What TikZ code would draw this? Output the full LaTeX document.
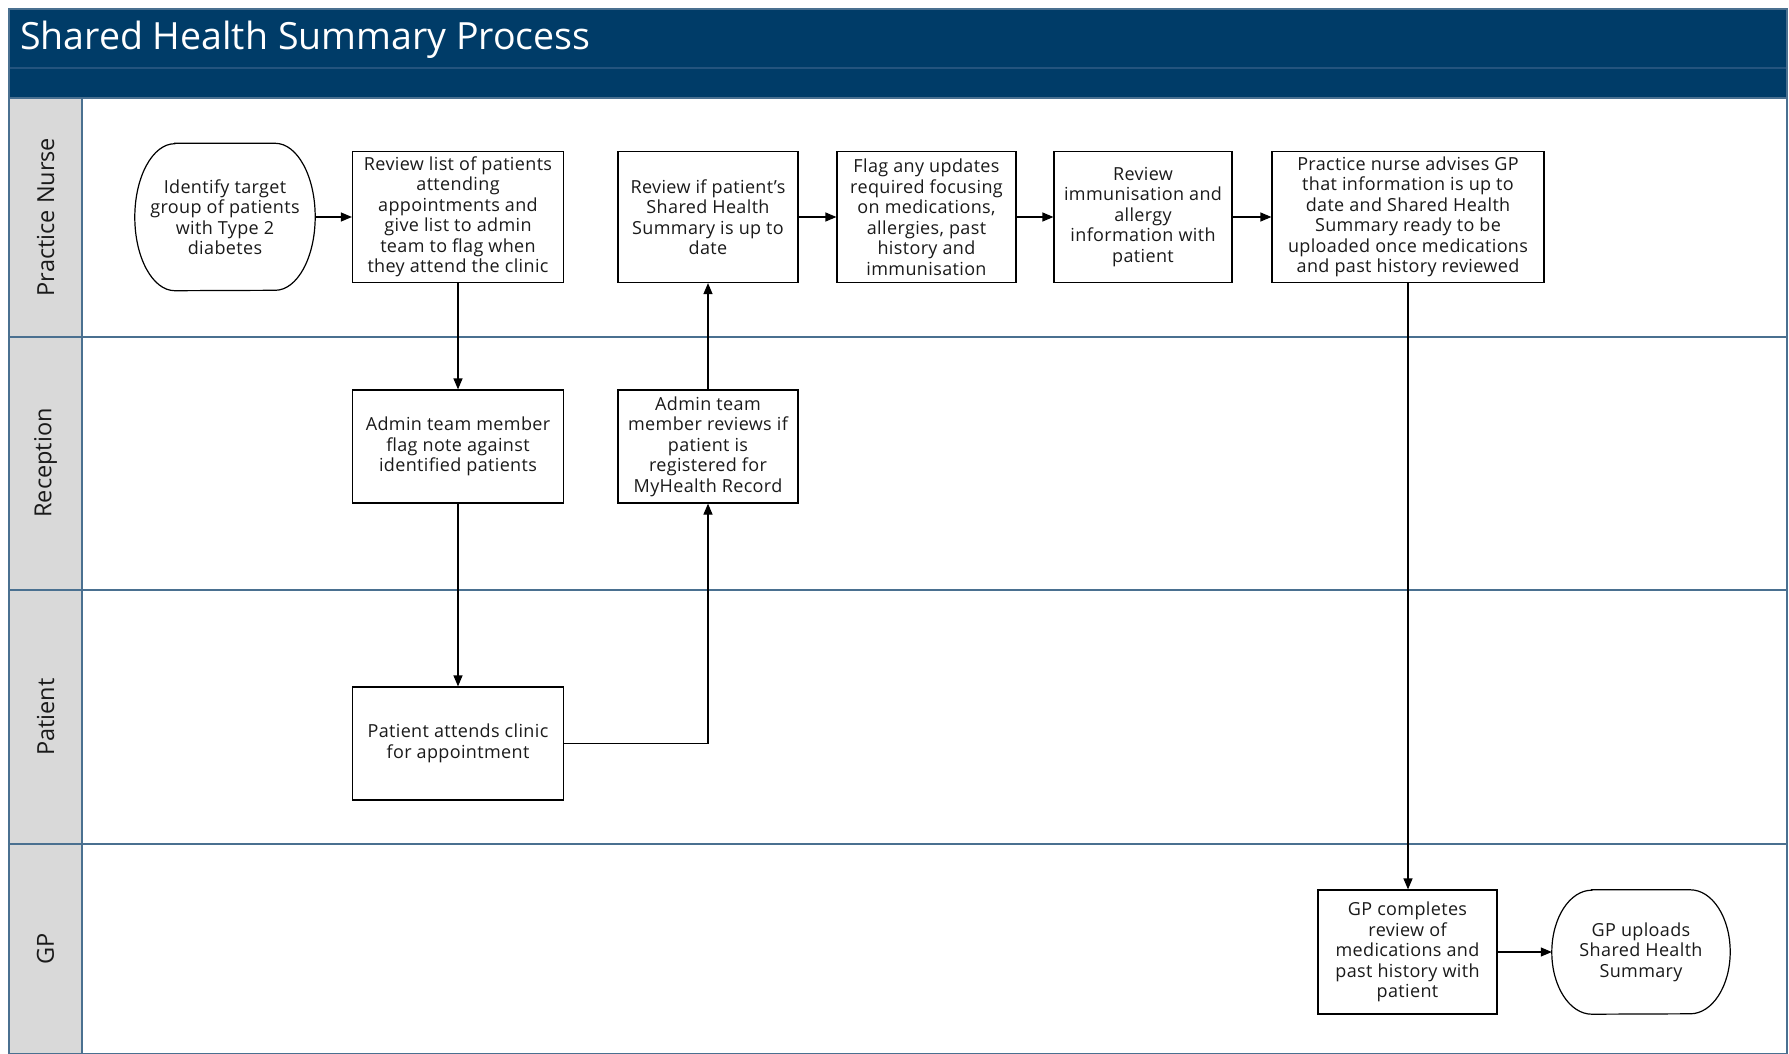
\documentclass[tikz,border=0pt]{standalone}
\usepackage{fontspec}
\setmainfont{Open Sans}
\newfontfamily\boxfont{Open Sans}[LetterSpace=2]
\usetikzlibrary{arrows.meta,calc}
\definecolor{hdr}{HTML}{003C68}
\definecolor{hdrline}{HTML}{24547E}
\definecolor{lanegray}{HTML}{D9D9D9}
\definecolor{laneline}{HTML}{4A7090}
\definecolor{txt}{HTML}{1A1A1A}
\newcommand\termoutline[2]{\draw[termline] ($(#1.north west)+(40,0)$) -- ($(#1.north east)+(-40,0)$) arc[start angle=90,end angle=-90,x radius=40,y radius=#2] -- ($(#1.south west)+(40,0)$) arc[start angle=270,end angle=90,x radius=40,y radius=#2] -- cycle;}
\begin{document}
\begin{tikzpicture}[x=1pt,y=1pt,
  boxtxt/.style={align=center, font=\boxfont\fontsize{18}{20.5}\selectfont, text=txt, inner sep=0pt},
  procbox/.style={boxtxt, draw=black, line width=1.2pt, fill=white},
  termnode/.style={boxtxt},
  termline/.style={draw=black, line width=1.2pt},
  flow/.style={draw=black, line width=1.2pt, -{Triangle[length=11pt,width=9pt]}},
  lanelbl/.style={rotate=90, font=\fontsize{23.5}{27}\selectfont, text=txt, inner sep=0pt},
  lanesep/.style={draw=laneline, line width=1.2pt}
]
\useasboundingbox (0,0) rectangle (1789,-1054);
\fill[white] (0,0) rectangle (1789,-1054);
% header
\fill[hdr] (9,-9) rectangle (1787,-98);
\draw[hdrline, line width=1.2pt] (9,-68) -- (1787,-68);
\node[anchor=base west, text=white, font=\fontsize{37.5}{40}\selectfont, inner sep=0pt] (title) at (20,-50) {Shared Health Summary Process};
% lane column
\fill[lanegray] (9,-98) rectangle (82,-1054);
\draw[lanesep] (9,-337) -- (1787,-337);
\draw[lanesep] (9,-590) -- (1787,-590);
\draw[lanesep] (9,-844) -- (1787,-844);
\draw[lanesep] (82,-98) -- (82,-1054);
\draw[lanesep] (9,-98) -- (1787,-98);
\draw[lanesep] (9,-9) rectangle (1787,-1053.4);
\node[lanelbl] (l1) at (45.5,-217) {Practice Nurse};
\node[lanelbl] (l2) at (45.5,-463) {Reception};
\node[lanelbl] (l3) at (45.5,-717) {Patient};
\node[lanelbl] (l4) at (45.5,-949) {GP};
% nodes
\node[termnode, minimum width=180pt, minimum height=147pt] (n1) at (225,-217) {Identify target\\group of patients\\with Type 2\\diabetes};
\termoutline{n1}{73.5}
\node[procbox, minimum width=211pt, minimum height=131pt] (n2) at (458,-217) {Review list of patients\\attending\\appointments and\\give list to admin\\team to flag when\\they attend the clinic};
\node[procbox, minimum width=180pt, minimum height=131pt] (n3) at (708,-217) {Review if patient’s\\Shared Health\\Summary is up to\\date};
\node[procbox, minimum width=179pt, minimum height=131pt] (n4) at (926.5,-217) {Flag any updates\\required focusing\\on medications,\\allergies, past\\history and\\immunisation};
\node[procbox, minimum width=178pt, minimum height=131pt] (n5) at (1143,-217) {Review\\immunisation and\\allergy\\information with\\patient};
\node[procbox, minimum width=272pt, minimum height=131pt] (n6) at (1408,-217) {Practice nurse advises GP\\that information is up to\\date and Shared Health\\Summary ready to be\\uploaded once medications\\and past history reviewed};
\node[procbox, minimum width=211pt, minimum height=113pt] (n7) at (458,-446.5) {Admin team member\\flag note against\\identified patients};
\node[procbox, minimum width=180pt, minimum height=113pt] (n8) at (708,-446.5) {Admin team\\member reviews if\\patient is\\registered for\\MyHealth Record};
\node[procbox, minimum width=211pt, minimum height=113pt] (n9) at (458,-743.5) {Patient attends clinic\\for appointment};
\node[procbox, minimum width=179pt, minimum height=124pt] (n10) at (1407.5,-952) {GP completes\\review of\\medications and\\past history with\\patient};
\node[termnode, minimum width=178pt, minimum height=124pt] (n11) at (1641,-952) {GP uploads\\Shared Health\\Summary};
\termoutline{n11}{62}
% connectors
\draw[flow] (n1.east) -- (n2.west);
\draw[flow] (n2.south) -- (n7.north);
\draw[flow] (n7.south) -- (n9.north);
\draw[flow] (n9.east) -| (n8.south);
\draw[flow] (n8.north) -- (n3.south);
\draw[flow] (n3.east) -- (n4.west);
\draw[flow] (n4.east) -- (n5.west);
\draw[flow] (n5.east) -- (n6.west);
\draw[flow] (n6.south) -- (n6.south |- n10.north);
\draw[flow] (n10.east) -- (n11.west);
\end{tikzpicture}
\end{document}
